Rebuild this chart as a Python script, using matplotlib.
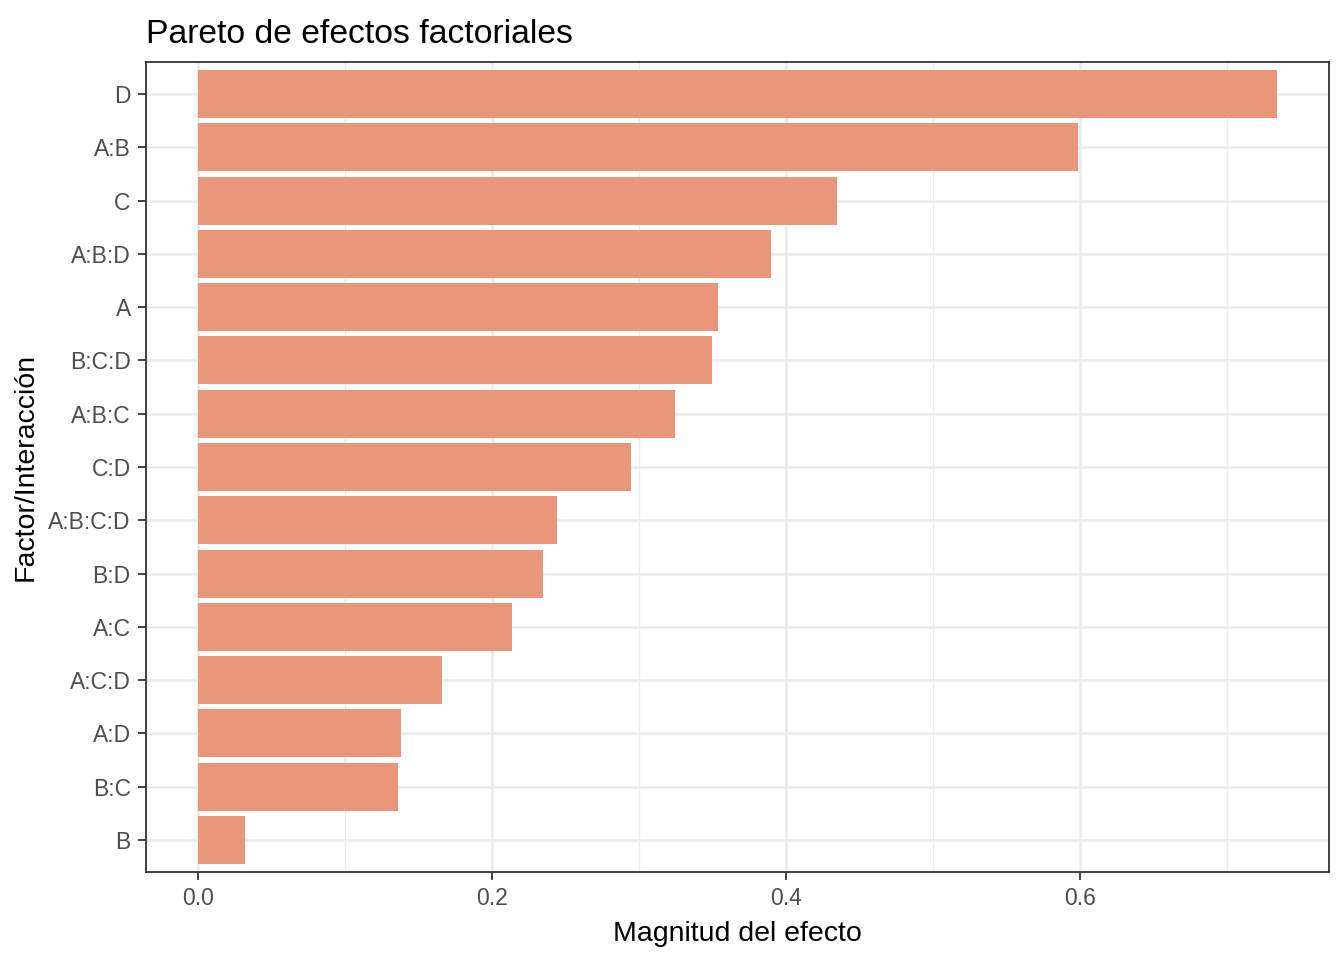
import matplotlib
matplotlib.use("Agg")
import matplotlib.pyplot as plt
from matplotlib.ticker import MultipleLocator

plt.rcParams['font.family'] = ['Liberation Sans', 'DejaVu Sans']

# effects, ordered as in the plot (largest at the top)
factors = ["D", "A:B", "C", "A:B:D", "A", "B:C:D", "A:B:C", "C:D",
           "A:B:C:D", "B:D", "A:C", "A:C:D", "A:D", "B:C", "B"]
effects = [0.7334, 0.5986, 0.4345, 0.3900, 0.3534, 0.3493, 0.3241, 0.2942,
           0.2445, 0.2349, 0.2138, 0.1662, 0.1382, 0.1362, 0.0320]
x_ticks = [0.0, 0.2, 0.4, 0.6]

bar_color = "#E9967A"
dark = "#333333"

fig = plt.figure(figsize=(13.44, 9.6), dpi=100)
ax = fig.add_axes([146 / 1344, 1 - 872 / 960, (1329 - 146) / 1344, (872 - 62) / 960])

n = len(factors)
ypos = list(range(n, 0, -1))
ax.barh(ypos, effects, height=0.9, color=bar_color, zorder=3)

ax.set_xlim(-0.0352, 0.769)
ax.set_ylim(0.4, n + 0.6)

ax.set_xticks(x_ticks)
ax.set_xticklabels([f"{t:.1f}" for t in x_ticks])
ax.xaxis.set_minor_locator(MultipleLocator(0.1))
ax.set_yticks(ypos)
ax.set_yticklabels(factors)

ax.grid(which="major", color="#EBEBEB", linewidth=1.8, zorder=0)
ax.grid(which="minor", axis="x", color="#EBEBEB", linewidth=0.9, zorder=0)
ax.set_axisbelow(True)

for sp in ax.spines.values():
    sp.set_color(dark)
    sp.set_linewidth(1.3)

ax.tick_params(axis="both", which="major", length=6, width=1.3, color=dark,
               labelsize=16.5, labelcolor="#4D4D4D", pad=5)
ax.tick_params(axis="x", which="minor", length=0)

ax.set_xlabel("Magnitud del efecto", fontsize=20.5, color="black", labelpad=8)
ax.set_ylabel("Factor/Interacción", fontsize=20.5, color="black", labelpad=7)
ax.set_title("Pareto de efectos factoriales", fontsize=24.3, loc="left",
             color="black", pad=14)

fig.savefig("out.png", dpi=100, facecolor="white")
